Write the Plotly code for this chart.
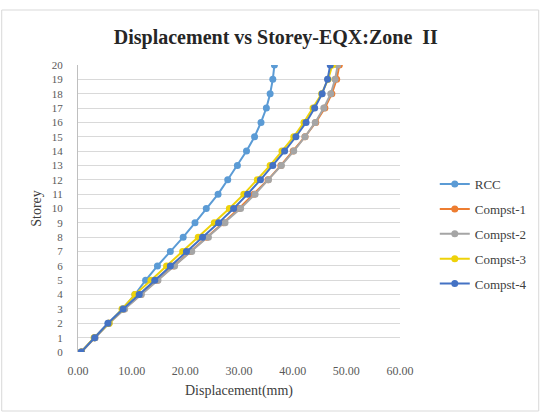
import plotly.graph_objects as go

storey = list(range(0, 21))
rcc = [0.6, 3.1, 5.6, 8.3, 10.6, 12.6, 14.8, 17.2, 19.6, 21.8, 23.9, 26.1, 27.9, 29.7, 31.4, 32.9, 34.1, 35.1, 35.8, 36.3, 36.6]
compst1 = [0.6, 3.1, 5.7, 8.6, 11.7, 14.8, 17.8, 20.9, 24.0, 27.1, 30.0, 32.8, 35.4, 37.8, 40.1, 42.3, 44.3, 46.0, 47.3, 48.2, 48.7]
compst2 = [0.6, 3.2, 5.8, 8.7, 11.8, 14.9, 18.0, 21.2, 24.3, 27.4, 30.3, 33.0, 35.5, 37.9, 40.2, 42.3, 44.2, 45.8, 47.1, 47.9, 48.4]
compst3 = [0.6, 3.0, 5.8, 8.2, 10.6, 13.6, 16.5, 19.5, 22.4, 25.4, 28.2, 30.9, 33.4, 35.8, 38.0, 40.2, 42.1, 43.8, 45.4, 46.6, 47.4]
compst4 = [0.6, 3.1, 5.6, 8.4, 11.4, 14.3, 17.2, 20.2, 23.2, 26.2, 29.0, 31.6, 34.0, 36.3, 38.5, 40.6, 42.5, 44.1, 45.5, 46.5, 47.0]

series = [
    ("RCC", rcc, "#5B9BD5"),
    ("Compst-1", compst1, "#ED7D31"),
    ("Compst-2", compst2, "#A5A5A5"),
    ("Compst-3", compst3, "#EED20A"),
    ("Compst-4", compst4, "#4472C4"),
]

font_family = "Liberation Serif, Times New Roman, serif"

fig = go.Figure()
for name, vals, col in series:
    fig.add_trace(go.Scatter(
        x=vals, y=storey, name=name, mode="lines+markers",
        line=dict(color=col, width=2),
        marker=dict(color=col, size=7, symbol="circle"),
        legendgroup=name,
    ))

fig.update_layout(
    width=544, height=412,
    margin=dict(l=78, r=141, t=65, b=60),
    paper_bgcolor="white", plot_bgcolor="white",
    font=dict(family=font_family, color="#595959", size=12),
    title=dict(text="<b>Displacement vs Storey-EQX:Zone  II</b>",
               x=0.507, xanchor="center", y=0.91, yanchor="middle",
               font=dict(family=font_family, size=20, color="#262626")),
    xaxis=dict(range=[0, 60], dtick=10, tickformat=".2f", showgrid=False,
               zeroline=False, showline=False, ticks="",
               ticklabelstandoff=10,
               title=dict(text="Displacement(mm)", standoff=8,
                          font=dict(size=14, color="#404040")),
               tickfont=dict(size=12)),
    yaxis=dict(range=[0, 20], dtick=1, showgrid=True, gridcolor="#D9D9D9",
               gridwidth=1, zeroline=False, showline=True, linecolor="#BFBFBF",
               ticks="", ticklabelstandoff=12,
               title=dict(text="Storey", standoff=6,
                          font=dict(size=14, color="#404040")),
               tickfont=dict(size=11)),
    legend=dict(x=1.108, xanchor="left", y=0.411, yanchor="middle",
                font=dict(family=font_family, size=13, color="#404040"),
                tracegroupgap=5, bgcolor="rgba(0,0,0,0)"),
    shapes=[dict(type="rect", xref="paper", yref="paper",
                 x0=-78/287 * 0 - 77/325, x1=(544-78-1)/325, y0=-59/287, y1=(287+55)/287,
                 line=dict(color="#D9D9D9", width=1))],
)

fig.write_html("out.html")
